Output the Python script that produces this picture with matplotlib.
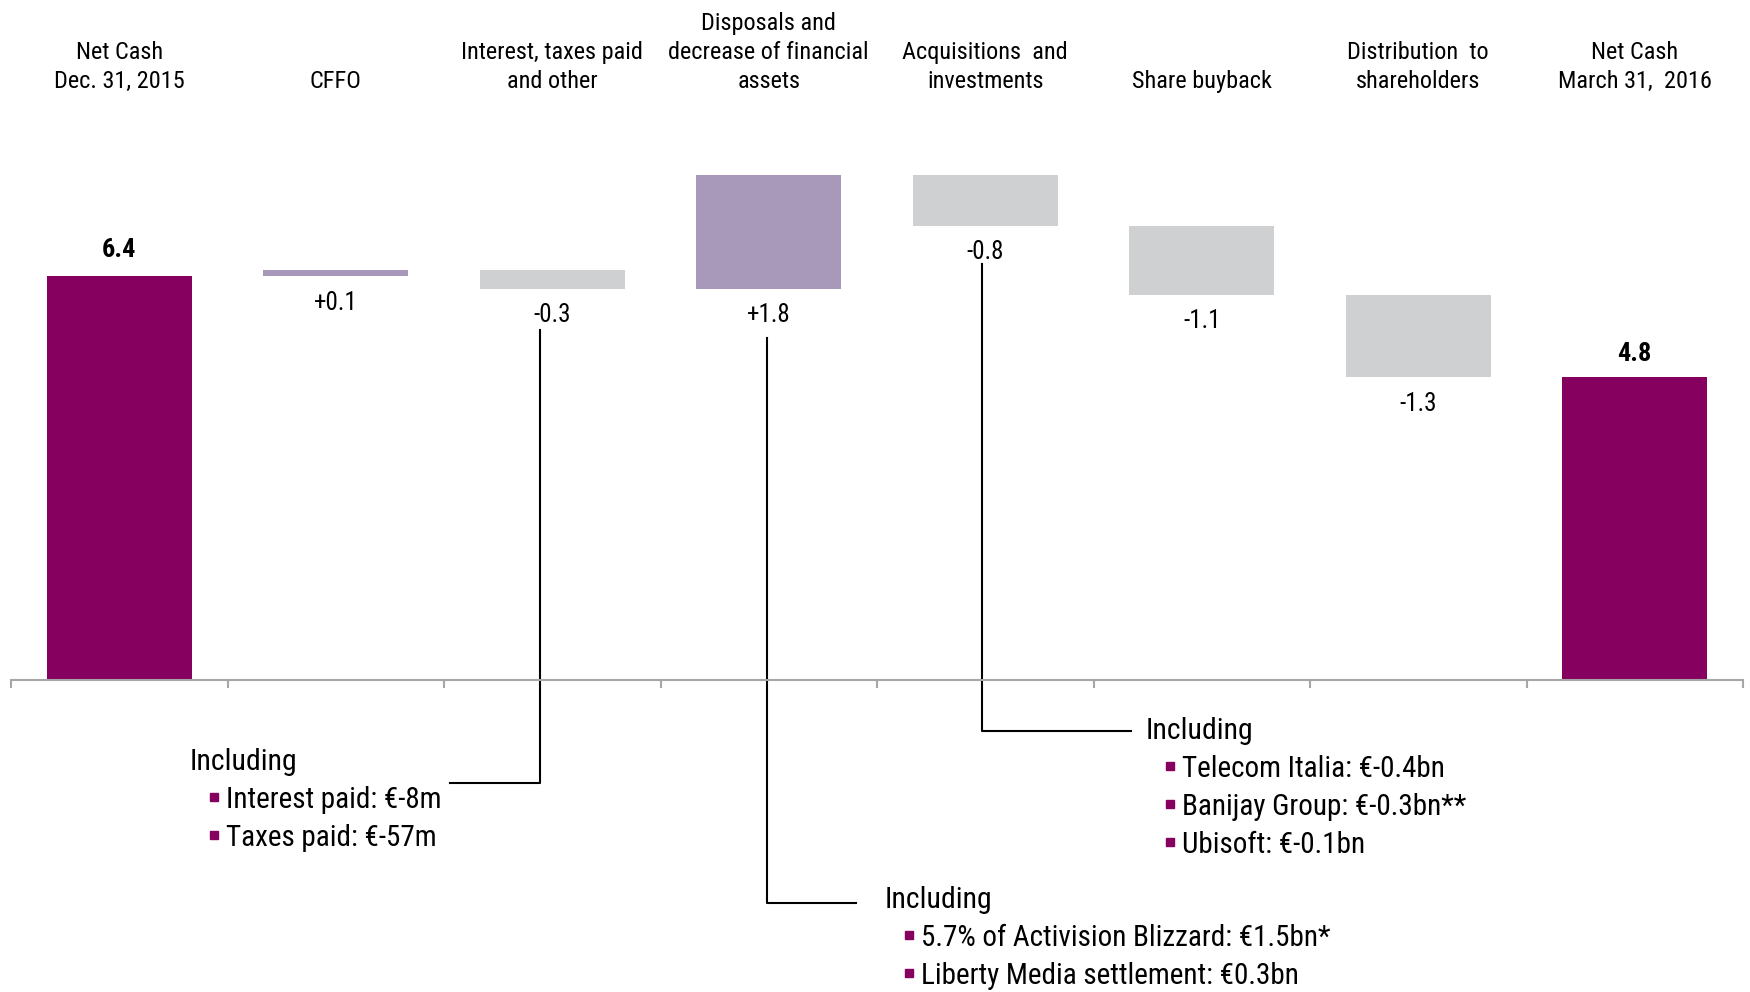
import matplotlib.pyplot as plt

plt.rcParams['font.family'] = ['Roboto Condensed', 'Liberation Sans', 'DejaVu Sans']

# Net cash bridge, in € billions
categories = ['Net Cash\nDec. 31, 2015', 'CFFO', 'Interest, taxes paid\nand other',
              'Disposals and\ndecrease of financial\nassets', 'Acquisitions  and\ninvestments',
              'Share buyback', 'Distribution  to\nshareholders', 'Net Cash\nMarch 31,  2016']
start_cash = 6.4
changes = [0.1, -0.3, 1.8, -0.8, -1.1, -1.3]
end_cash = 4.8
change_labels = ['+0.1', '-0.3', '+1.8', '-0.8', '-1.1', '-1.3']

# detail boxes hanging under the bridge
interest_items = ['Interest paid: €-8m', 'Taxes paid: €-57m']
disposal_items = ['5.7% of Activision Blizzard: €1.5bn*', 'Liberty Media settlement: €0.3bn']
acquisition_items = ['Telecom Italia: €-0.4bn', 'Banijay Group: €-0.3bn**', 'Ubisoft: €-0.1bn']

total_color = '#85005F'
up_color = '#A899BB'
down_color = '#CFD0D2'

fig = plt.figure(figsize=(17.5, 9.92), dpi=100)
ax = fig.add_axes([11 / 1750, 312 / 992, 1732 / 1750, 680 / 992])
ax.set_xlim(-0.5, 7.5)
ax.set_ylim(0, 680 / 63.1)

width = 0.67

# opening and closing totals
ax.bar(0, start_cash, width, color=total_color)
ax.bar(7, end_cash, width, color=total_color)
ax.annotate(f'{start_cash:.1f}', (0, start_cash), xytext=(0, 19), textcoords='offset points',
            ha='center', va='center', fontsize=19, fontweight='bold')
ax.annotate(f'{end_cash:.1f}', (7, end_cash), xytext=(0, 17), textcoords='offset points',
            ha='center', va='center', fontsize=19, fontweight='bold')

# floating steps
level = start_cash
for i, (d, lab) in enumerate(zip(changes, change_labels), start=1):
    lo = min(level, level + d)
    ax.bar(i, abs(d), width, bottom=lo, color=up_color if d > 0 else down_color)
    ax.annotate(lab, (i, lo), xytext=(0, -19), textcoords='offset points',
                ha='center', va='center', fontsize=18)
    level += d

# category headers
for i, name in enumerate(categories):
    ax.text(i, 9.30, name, ha='center', va='bottom', fontsize=17.5, linespacing=1.35)

# axis styling
for s in ['top', 'right', 'left']:
    ax.spines[s].set_visible(False)
ax.spines['bottom'].set_color('#A6A6A6')
ax.spines['bottom'].set_linewidth(1.5)
ax.set_yticks([])
ax.set_xticks([i - 0.5 for i in range(9)])
ax.set_xticklabels([])
ax.tick_params(axis='x', direction='out', length=6, width=1.5, color='#A6A6A6')


def px_to_data(px, py):
    return (px - 11) / 216.5 - 0.5, (680 - py) / 63.1


def connector(points):
    xs, ys = zip(*[px_to_data(*p) for p in points])
    ax.plot(xs, ys, color='black', lw=1.5, clip_on=False)


def detail_box(x_px, y_px, items, step=38):
    x, y = px_to_data(x_px, y_px)
    ax.text(x, y, 'Including', ha='left', va='center', fontsize=21.5, clip_on=False)
    for k, item in enumerate(items, start=1):
        bx, by = px_to_data(x_px + 24, y_px + k * step)
        tx, _ = px_to_data(x_px + 36, y_px)
        ax.plot(bx, by + 0.05, marker='s', ms=5.5, color=total_color, clip_on=False)
        ax.text(tx, by, item, ha='left', va='center', fontsize=21, clip_on=False)


connector([(540, 330), (540, 783), (450, 783)])
detail_box(190, 762, interest_items)

connector([(767, 338), (767, 903), (856, 903)])
detail_box(885, 900, disposal_items)

connector([(982, 264), (982, 731), (1131, 731)])
detail_box(1146, 731, acquisition_items)

fig.savefig('out.png', dpi=100)
